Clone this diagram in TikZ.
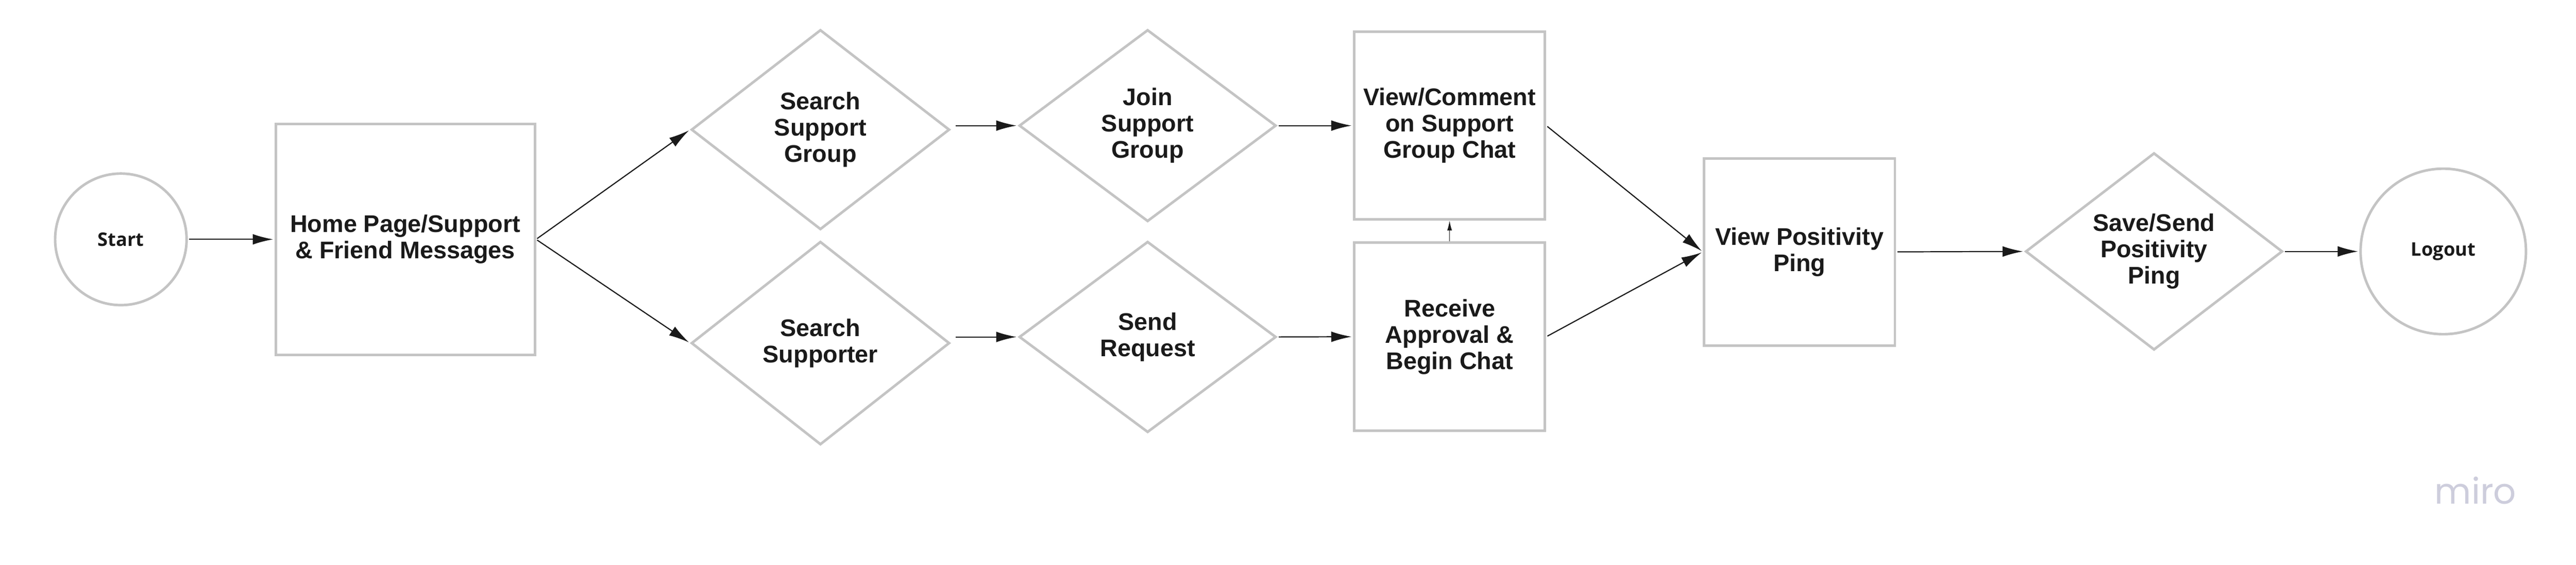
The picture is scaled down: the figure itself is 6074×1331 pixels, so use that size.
\documentclass[tikz,border=0pt]{standalone}
\usepackage{fontspec}
\setmainfont{Liberation Sans}
\newfontfamily\osans{Open Sans}
\newfontfamily\popp{Poppins}
\usetikzlibrary{shapes.geometric,arrows.meta}
\definecolor{bord}{RGB}{196,196,196}
\definecolor{ink}{RGB}{26,26,26}
\definecolor{miroc}{RGB}{205,205,220}
\newcommand\lbl{\fontsize{14.2}{15.5}\selectfont\bfseries}
\newcommand\termfont{\osans\fontsize{11}{13}\selectfont\bfseries}
\tikzset{
  box/.style={draw=bord, line width=1.5pt, rectangle, inner sep=0pt, align=center, font=\lbl, text=ink},
  dia/.style={draw=bord, line width=1.5pt, diamond, inner sep=0pt, align=center, font=\lbl, text=ink},
  term/.style={draw=bord, line width=1.5pt, circle, inner sep=0pt, font=\termfont, text=ink},
  conn/.style={draw=ink, line width=0.67pt, shorten >=0.75pt, shorten <=0.75pt, -{Latex[length=12pt,width=6.25pt]}},
  smallconn/.style={draw=ink, line width=0.4pt, -{Latex[length=5.75pt,width=2.8pt]}}
}
\begin{document}
\begin{tikzpicture}[x=0.25pt,y=-0.25pt]
\useasboundingbox[fill=white] (0,0) rectangle (6074,1331);
\node[term, minimum size=0.25pt*310] (start) at (285,564) {Start};
\node[box, minimum width=0.25pt*611, minimum height=0.25pt*544] (home) at (955.5,564) {Home Page/Support\\\& Friend Messages};
\node[dia, minimum width=0.25pt*609, minimum height=0.25pt*471] (ssg) at (1934.5,305.5) {Search\\Support\\Group};
\node[dia, minimum width=0.25pt*606, minimum height=0.25pt*452] (jsg) at (2706,296) {Join\\Support\\Group};
\node[dia, minimum width=0.25pt*609, minimum height=0.25pt*479] (ss) at (1934.5,808.5) {Search\\Supporter};
\node[dia, minimum width=0.25pt*606, minimum height=0.25pt*450] (sr) at (2706,794) {Send\\Request};
\node[box, minimum width=0.25pt*450, minimum height=0.25pt*442] (vc) at (3418,296) {View/Comment\\on Support\\Group Chat};
\node[box, minimum width=0.25pt*450, minimum height=0.25pt*443] (rab) at (3418,793.5) {Receive\\Approval \&\\Begin Chat};
\node[box, minimum width=0.25pt*450, minimum height=0.25pt*441] (vpp) at (4243,593.5) {View Positivity\\Ping};
\node[dia, minimum width=0.25pt*606, minimum height=0.25pt*453] (ssp) at (5079,592.5) {Save/Send\\Positivity\\Ping};
\node[term, minimum size=0.25pt*390] (logout) at (5761,592.5) {Logout};
\node[anchor=base, inner sep=0pt, text=miroc, font=\popp\fontsize{21}{24}\selectfont] (miro) at (5837,1188) {miro};
\draw[conn] (start.east) -- (home.west);
\draw[conn] (home.east) -- (ssg.west);
\draw[conn] (home.east) -- (ss.west);
\draw[conn] ([xshift=2pt]ssg.east |- jsg.west) -- (jsg.west);
\draw[conn] (jsg.east) -- (vc.west);
\draw[conn] ([xshift=2pt]ss.east |- sr.west) -- (sr.west);
\draw[conn] (sr.east) -- (rab.west);
\draw[smallconn] (rab.north) -- (vc.south);
\draw[conn] (vc.east) -- (vpp.west);
\draw[conn] (rab.east) -- (vpp.west);
\draw[conn] (vpp.east) -- (ssp.west);
\draw[conn] (ssp.east) -- (logout.west);
\end{tikzpicture}
\end{document}
